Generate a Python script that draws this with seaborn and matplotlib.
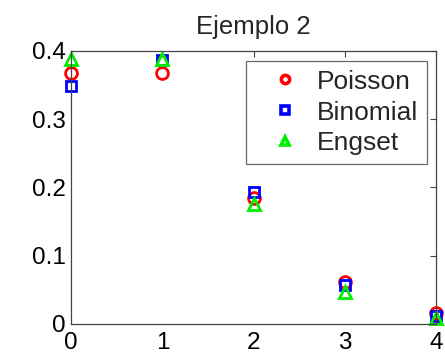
import matplotlib
matplotlib.use("Agg")
import matplotlib.pyplot as plt
import seaborn as sns
import pandas as pd

# Distribution values for k = 0..4
k_values = [0, 1, 2, 3, 4]
poisson = [0.368, 0.368, 0.184, 0.061, 0.016]
binomial = [0.349, 0.387, 0.194, 0.057, 0.012]
engset = [0.388, 0.388, 0.175, 0.047, 0.008]

series_names = ["Poisson", "Binomial", "Engset"]
series_colors = ["#ff0000", "#0000ff", "#00ee00"]
series_markers = ["o", "s", "^"]
series_sizes = [8.5, 7.5, 8.5]

sns.set_style("white")
plt.rcParams["font.family"] = ["Liberation Sans", "DejaVu Sans"]

df = pd.DataFrame({"k": k_values, "Poisson": poisson,
                   "Binomial": binomial, "Engset": engset})

fig = plt.figure(figsize=(4.45, 3.56), dpi=100)
ax = fig.add_axes([0.16, 0.09, 0.82, 0.767])

for name, col, mk, ms in zip(series_names, series_colors, series_markers, series_sizes):
    sns.lineplot(data=df, x="k", y=name, ax=ax, linestyle="", marker=mk,
                 markersize=ms, markerfacecolor="none", markeredgecolor=col,
                 markeredgewidth=2.0, color=col, label=name, clip_on=False)

ax.set_xlim(0, 4)
ax.set_ylim(0, 0.4)
ax.set_xticks([0, 1, 2, 3, 4])
ax.set_yticks([0, 0.1, 0.2, 0.3, 0.4])
ax.set_yticklabels(["0", "0.1", "0.2", "0.3", "0.4"])
ax.set_xlabel("")
ax.set_ylabel("")
ax.set_title("Ejemplo 2", fontsize=18.5, pad=12)

ax.tick_params(direction="in", length=4, width=0.8, colors="#444444",
               labelcolor="black", labelsize=17.5, top=True, right=True)
ax.tick_params(axis="x", pad=5.5)
ax.tick_params(axis="y", pad=4)
for sp in ax.spines.values():
    sp.set_color("#444444")
    sp.set_linewidth(0.9)

leg = ax.legend(loc="upper right", fontsize=19, frameon=True, fancybox=False,
                handlelength=2.25, handletextpad=0.1, borderpad=0.33,
                borderaxespad=0, labelspacing=0.26, markerscale=0.7,
                bbox_to_anchor=(0.975, 0.963))
leg.get_frame().set_edgecolor("#444444")
leg.get_frame().set_linewidth(0.9)
for h in leg.legend_handles:
    h.set_markeredgewidth(2.6)

fig.savefig("out.png", dpi=100)
